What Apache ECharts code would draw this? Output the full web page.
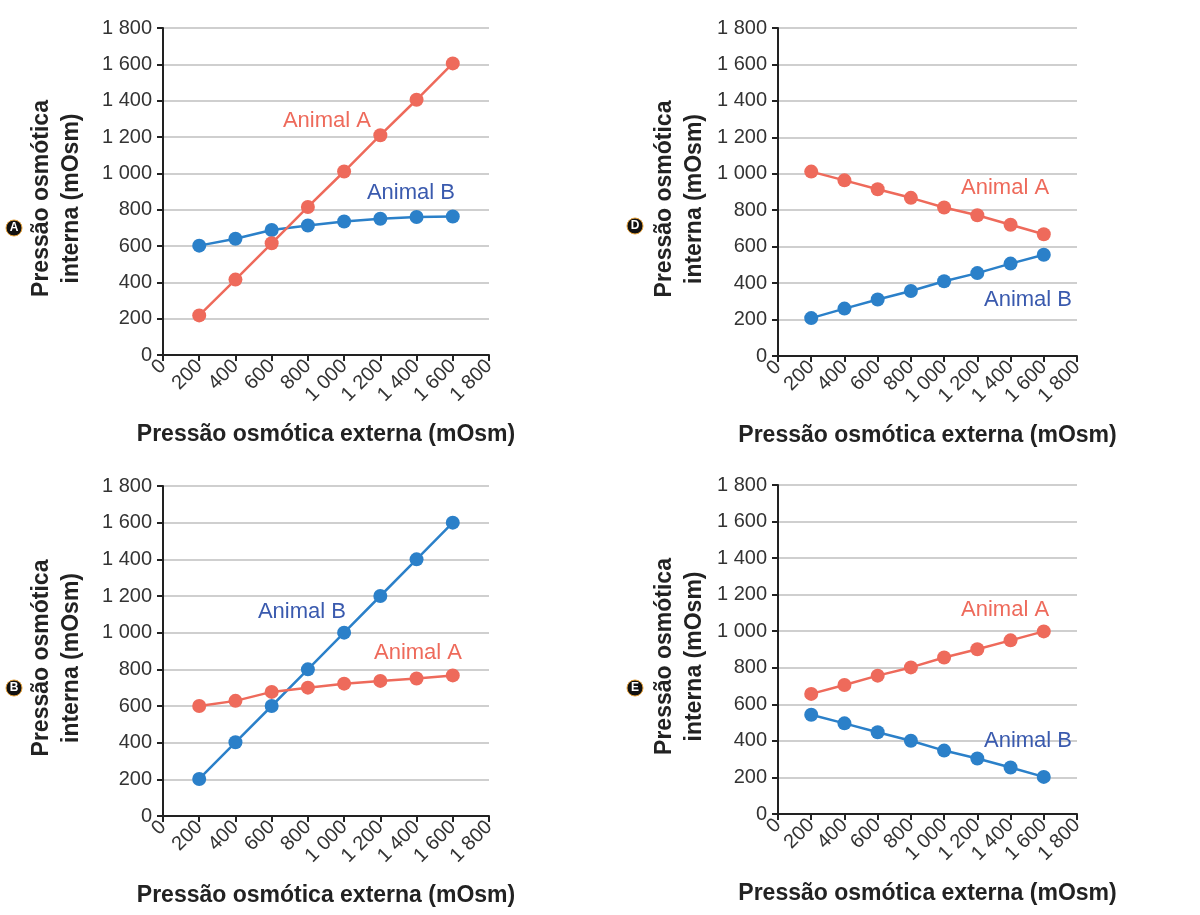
<!DOCTYPE html>
<html><head><meta charset="utf-8">
<script src="https://cdn.jsdelivr.net/npm/echarts@6/dist/echarts.min.js"></script>
<style>html,body{margin:0;padding:0;background:#fff}#c{width:1200px;height:915px}</style>
</head><body><div id="c"></div>
<script>
const xValues = [200, 400, 600, 800, 1000, 1200, 1400, 1600];
const axisTicks = [0, 200, 400, 600, 800, 1000, 1200, 1400, 1600, 1800];

const panelA_animalA = [218, 415, 615, 815, 1010, 1210, 1405, 1605];
const panelA_animalB = [602, 640, 688, 713, 735, 750, 760, 762];
const panelD_animalA = [1012, 964, 915, 868, 815, 772, 720, 668];
const panelD_animalB = [208, 260, 310, 357, 410, 455, 507, 556];
const panelB_animalA = [600, 628, 677, 700, 722, 737, 750, 767];
const panelB_animalB = [202, 402, 600, 800, 1000, 1200, 1400, 1600];
const panelE_animalA = [657, 706, 757, 802, 856, 901, 950, 999];
const panelE_animalB = [543, 496, 447, 401, 347, 304, 254, 203];

const panelLetters = ['A', 'D', 'B', 'E'];
const labelA = 'Animal A', labelB = 'Animal B';
// annotation anchor positions (data coords) [x, y]
const annotA = [[905, 1290], [1367, 925], [1408, 888], [1367, 1115]];
const annotB = [[1369, 890], [1505, 307], [767, 1112], [1505, 398]];

const xTitle = 'Pressão osmótica externa (mOsm)';
const yTitle = 'Pressão osmótica\ninterna (mOsm)';

const RED = '#ee6a5b', BLUE = '#2b80c9', BLUE_TXT = '#3a5aae';
const FONT = 'Liberation Sans, Arial, sans-serif';

const grids = [
  {left: 163, right: 711, top: 28, bottom: 560},
  {left: 778, right: 123, top: 28, bottom: 559},
  {left: 163, right: 711, top: 486, bottom: 99},
  {left: 778, right: 123, top: 485, bottom: 101}
];
const yNameGaps = [76, 68, 76, 68];
const seriesSets = [
  [panelA_animalA, panelA_animalB],
  [panelD_animalA, panelD_animalB],
  [panelB_animalA, panelB_animalB],
  [panelE_animalA, panelE_animalB]
];

function fmt(v){ return v >= 1000 ? String(v).replace(/(\d)(\d{3})$/, '$1 $2') : String(v); }

const xAxes = [], yAxes = [], series = [];
grids.forEach((g, i) => {
  xAxes.push({
    type: 'value', gridIndex: i, min: axisTicks[0], max: axisTicks[axisTicks.length-1], interval: 200,
    axisLine: {show: true, lineStyle: {color: '#222', width: 2}},
    axisTick: {show: true, length: 6, lineStyle: {color: '#222', width: 2}},
    splitLine: {show: false},
    axisLabel: {rotate: 45, fontSize: 20, color: '#333', fontFamily: FONT, margin: 8, formatter: fmt},
    name: xTitle, nameLocation: 'middle', nameGap: 68,
    nameTextStyle: {fontSize: 23, fontWeight: 'bold', color: '#222', fontFamily: FONT}
  });
  yAxes.push({
    type: 'value', gridIndex: i, min: axisTicks[0], max: axisTicks[axisTicks.length-1], interval: 200,
    axisLine: {show: true, lineStyle: {color: '#222', width: 2}},
    axisTick: {show: true, length: 6, lineStyle: {color: '#222', width: 2}},
    splitLine: {show: true, lineStyle: {color: '#cfcfcf', width: 2}},
    axisLabel: {fontSize: 20, color: '#333', fontFamily: FONT, margin: 11, formatter: fmt},
    name: yTitle, nameLocation: 'middle', nameGap: yNameGaps[i], nameRotate: 90,
    nameTextStyle: {fontSize: 23, fontWeight: 'bold', color: '#222', fontFamily: FONT, lineHeight: 30, align: 'center', padding: [0, 14, 0, 0]}
  });
  const [a, b] = seriesSets[i];
  const mk = (vals, color, name, pos, txtColor) => ({
    type: 'line', name, xAxisIndex: i, yAxisIndex: i,
    data: xValues.map((x, k) => [x, vals[k]]),
    symbol: 'circle', symbolSize: 14, showSymbol: true,
    lineStyle: {color, width: 2.5}, itemStyle: {color},
    z: 3,
    markPoint: {
      symbol: 'circle', symbolSize: 0,
      data: [{coord: pos, value: name}],
      label: {show: true, position: 'inside', formatter: name, color: txtColor, fontSize: 22, fontFamily: FONT}
    }
  });
  series.push(mk(b, BLUE, labelB, annotB[i], BLUE_TXT));
  series.push(mk(a, RED, labelA, annotA[i], RED));
});

const letterPos = [[14, 228], [635, 226], [14, 688], [635, 688]];
const graphic = letterPos.map((p, i) => ({
  type: 'group', x: p[0], y: p[1], children: [
    {type: 'circle', shape: {cx: 0, cy: 0, r: 8}, style: {fill: '#111', stroke: '#e8a23a', lineWidth: 1}},
    {type: 'text', x: 0, y: 0, style: {text: panelLetters[i], fill: '#fff', font: 'bold 12px ' + FONT, align: 'center', verticalAlign: 'middle'}}
  ]
}));

const chart = echarts.init(document.getElementById('c'), null, {renderer: 'canvas'});
chart.setOption({
  animation: false, backgroundColor: '#fff',
  grid: grids, xAxis: xAxes, yAxis: yAxes, series, graphic
});
</script></body></html>
